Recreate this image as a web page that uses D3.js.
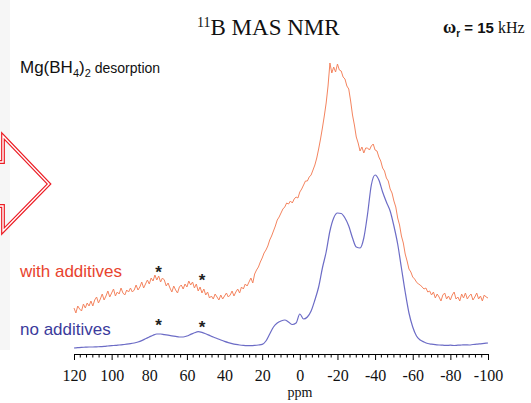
<!DOCTYPE html>
<html>
<head>
<meta charset="utf-8">
<script src="https://cdn.jsdelivr.net/npm/d3@7"></script>
<style>
  html, body { margin: 0; padding: 0; background: #fff; }
  svg { display: block; }
</style>
</head>
<body>
<svg id="chart" width="531" height="403"></svg>
<script>
// Chemical-shift axis (ppm), plotted high → low
const ppmDomain = [120, -100];
const majorTicks = [120, 100, 80, 60, 40, 20, 0, -20, -40, -60, -80, -100];

// "no additives" spectrum, sampled every 2 ppm from 120 to -100
const noAdditivesStep = 2;
const noAdditives = [
  0, 0.3, 0.6, 0.8, 1.0, 1.0, 1.2, 1.3, 1.6, 2.0,
  2.4, 2.6, 3.0, 3.4, 3.8, 4.3, 5.0, 6.0, 7.4, 9.2,
  11.0, 12.8, 14.0, 14.0, 13.4, 12.8, 12.2, 11.6, 11.0, 11.0,
  12.0, 13.6, 15.2, 16.3, 15.6, 14.2, 12.6, 11.0, 9.5, 8.0,
  6.6, 5.4, 4.4, 3.6, 3.0, 2.6, 2.4, 2.4, 2.6, 3.0,
  3.6, 7.0, 14.0, 21.0, 25.0, 27.0, 28.0, 26.0, 23.5, 25.0,
  34.0, 29.0, 31.0, 37.0, 48.0, 61.0, 80.0, 96.0, 117.0, 130.0,
  135.0, 134.5, 130.0, 122.0, 110.0, 101.0, 100.0, 110.0, 134.0, 163.0,
  173.0, 168.0, 156.0, 146.0, 137.0, 122.0, 104.0, 80.0, 56.0, 35.0,
  21.0, 12.0, 8.0, 6.0, 4.5, 3.8, 3.3, 3.0, 2.8, 2.6,
  2.8, 2.5, 2.8, 3.0, 3.2, 3.0, 3.5, 3.8, 4.2, 4.6,
  5.0
];

// "with additives" spectrum, sampled every 1 ppm from 120 to -100
const withAdditivesStep = 1;
const withAdditives = [
  22, 17, 24, 21, 19, 26, 22, 27, 24, 29,
  24, 30, 33, 27, 31, 36, 30, 34, 39, 33,
  37, 41, 34, 38, 36, 42, 37, 35, 40, 38,
  42, 38, 40, 45, 40, 43, 48, 42, 46, 50,
  46, 52, 49, 55, 50, 54, 48, 52, 50, 44,
  47, 42, 38, 44, 40, 37, 43, 45, 41, 46,
  43, 49, 45, 48, 42, 46, 39, 43, 37, 41,
  35, 38, 32, 34, 31, 36, 33, 30, 35, 31,
  34, 37, 33, 35, 39, 34, 38, 41, 37, 43,
  41, 46, 44, 48, 52, 47, 56, 60, 63, 68,
  72, 77, 80, 84, 90, 94, 99, 104, 110, 113,
  117, 121, 123, 127, 126, 129, 127, 131, 133, 132,
  138, 141, 145, 149, 149, 153, 155, 160, 165, 172,
  181, 191, 202, 214, 227, 244, 267, 257, 263, 258,
  266, 260, 259, 253, 251, 244, 241, 229, 215, 205,
  193, 187, 179, 183, 177, 182, 182, 180, 184, 186,
  180, 179, 173, 169, 162, 159, 152, 149, 141, 137,
  129, 123, 112, 105, 94, 87, 76, 69, 61, 58,
  53, 51, 48, 46, 45, 43, 41, 42, 38, 39,
  35, 38, 32, 36, 33, 29, 35, 37, 31, 34,
  30, 35, 38, 31, 33, 29, 36, 32, 37, 31,
  34, 36, 30, 33, 37, 31, 34, 29, 35, 33,
  32
];

// Spinning-sideband markers: ppm position and height above baseline
const sidebandPpm = [75, 52];
const sidebandWith = [62, 54];
const sidebandNo = [27, 25];

const svg = d3.select("#chart");

// light strip at the page's left edge
svg.append("rect").attr("x", 0).attr("y", 0).attr("width", 10).attr("height", 350)
  .attr("fill", "#f6f6f6");

const x = d3.scaleLinear().domain(ppmDomain).range([74, 488]);
const y = d3.scaleLinear().domain([0, 300]).range([348, 48]);

const offsetNo = 0;
const offsetWith = 18;

function toPoints(values, step, offset) {
  return values.map((v, i) => [ppmDomain[0] - i * step, v + offset]);
}

const lineSmooth = d3.line().x(d => x(d[0])).y(d => y(d[1])).curve(d3.curveMonotoneX);
const lineRaw = d3.line().x(d => x(d[0])).y(d => y(d[1]));

svg.append("path")
  .datum(toPoints(noAdditives, noAdditivesStep, offsetNo))
  .attr("d", lineSmooth)
  .attr("fill", "none")
  .attr("stroke", "#6c6cc6")
  .attr("stroke-width", 1.2);

svg.append("path")
  .datum(toPoints(withAdditives, withAdditivesStep, offsetWith))
  .attr("d", lineRaw)
  .attr("fill", "none")
  .attr("stroke", "#f4845f")
  .attr("stroke-width", 1)
  .attr("stroke-linejoin", "round");

// sideband asterisks
const star = svg.append("g")
  .style("font-family", "'Liberation Sans', Arial, sans-serif")
  .style("font-size", "17px").style("font-weight", "bold")
  .attr("fill", "#222").attr("text-anchor", "middle");
sidebandPpm.forEach((p, i) => {
  star.append("text").attr("x", x(p)).attr("y", y(sidebandWith[i] + offsetWith) + 10).text("*");
  star.append("text").attr("x", x(p)).attr("y", y(sidebandNo[i] + offsetNo) + 10).text("*");
});

// x axis
const serif = "'Liberation Serif', 'Times New Roman', serif";
const sans = "'Liberation Sans', Arial, sans-serif";
const axisY = 354;
const axis = d3.axisBottom(x)
  .tickValues(majorTicks)
  .tickFormat(d => String(d))
  .tickSize(6)
  .tickSizeOuter(0)
  .tickPadding(10);
const gAxis = svg.append("g").attr("transform", `translate(0,${axisY})`).call(axis);
gAxis.attr("font-family", null).attr("font-size", null);
gAxis.select(".domain").attr("stroke", "#000").attr("stroke-width", 1.2);
gAxis.selectAll(".tick line").attr("stroke", "#000").attr("stroke-width", 1);
gAxis.selectAll(".tick text")
  .style("font-family", serif)
  .style("font-size", "16px")
  .attr("fill", "#111");

const minorTicks = d3.range(0, 67).map(i => 120 - i * 10 / 3).filter(v => !majorTicks.some(m => Math.abs(m - v) < 0.01));
svg.append("g").selectAll("line").data(minorTicks).join("line")
  .attr("x1", d => x(d)).attr("x2", d => x(d))
  .attr("y1", axisY).attr("y2", axisY + 3.5)
  .attr("stroke", "#000").attr("stroke-width", 1);

svg.append("text").attr("x", 300).attr("y", 397)
  .attr("text-anchor", "middle")
  .style("font-family", serif)
  .style("font-size", "14px").attr("fill", "#111").text("ppm");

// title
const title = svg.append("text").attr("x", 197).attr("y", 35)
  .style("font-family", serif).attr("fill", "#111");
title.append("tspan").style("font-size", "14px").attr("dy", -8).text("11");
title.append("tspan").style("font-size", "23px").attr("dy", 8).text("B MAS NMR");

// spinning rate
const rate = svg.append("text").attr("x", 443).attr("y", 33).attr("fill", "#111");
rate.append("tspan").style("font-family", serif)
  .style("font-weight", "bold").style("font-size", "18px").text("ω");
rate.append("tspan").style("font-family", sans)
  .style("font-weight", "bold").style("font-size", "10px").attr("dy", 4).text("r");
rate.append("tspan").style("font-family", sans)
  .style("font-weight", "bold").style("font-size", "15px").attr("dy", -4).text(" = 15 ");
rate.append("tspan").style("font-family", serif)
  .style("font-size", "16px").text("kHz");

// sample label
const sample = svg.append("text").attr("x", 20).attr("y", 73)
  .style("font-family", sans).attr("fill", "#111");
sample.append("tspan").style("font-size", "17px").text("Mg(BH");
sample.append("tspan").style("font-size", "11px").attr("dy", 4).text("4");
sample.append("tspan").style("font-size", "17px").attr("dy", -4).text(")");
sample.append("tspan").style("font-size", "11px").attr("dy", 4).text("2");
sample.append("tspan").style("font-size", "14px").attr("dy", -4).text(" desorption");

// series labels
svg.append("text").attr("x", 20).attr("y", 277)
  .style("font-family", sans).style("font-size", "17px")
  .attr("fill", "#e8432e").text("with additives");
svg.append("text").attr("x", 20).attr("y", 335)
  .style("font-family", sans).style("font-size", "17px")
  .attr("fill", "#3b3b9c").text("no additives");

// outlined arrow at the left edge, drawn as a double red line
const arrowPts = [[-10, 162], [3, 162], [3, 136], [49, 184], [3, 231], [3, 206], [-10, 206]];
const arrowPath = d3.line()(arrowPts);
svg.append("path").attr("d", arrowPath).attr("fill", "none")
  .attr("stroke", "#ec1c24").attr("stroke-width", 3.8).attr("stroke-linejoin", "miter");
svg.append("path").attr("d", arrowPath).attr("fill", "none")
  .attr("stroke", "#ffffff").attr("stroke-width", 1.4).attr("stroke-linejoin", "miter");
</script>
</body>
</html>
